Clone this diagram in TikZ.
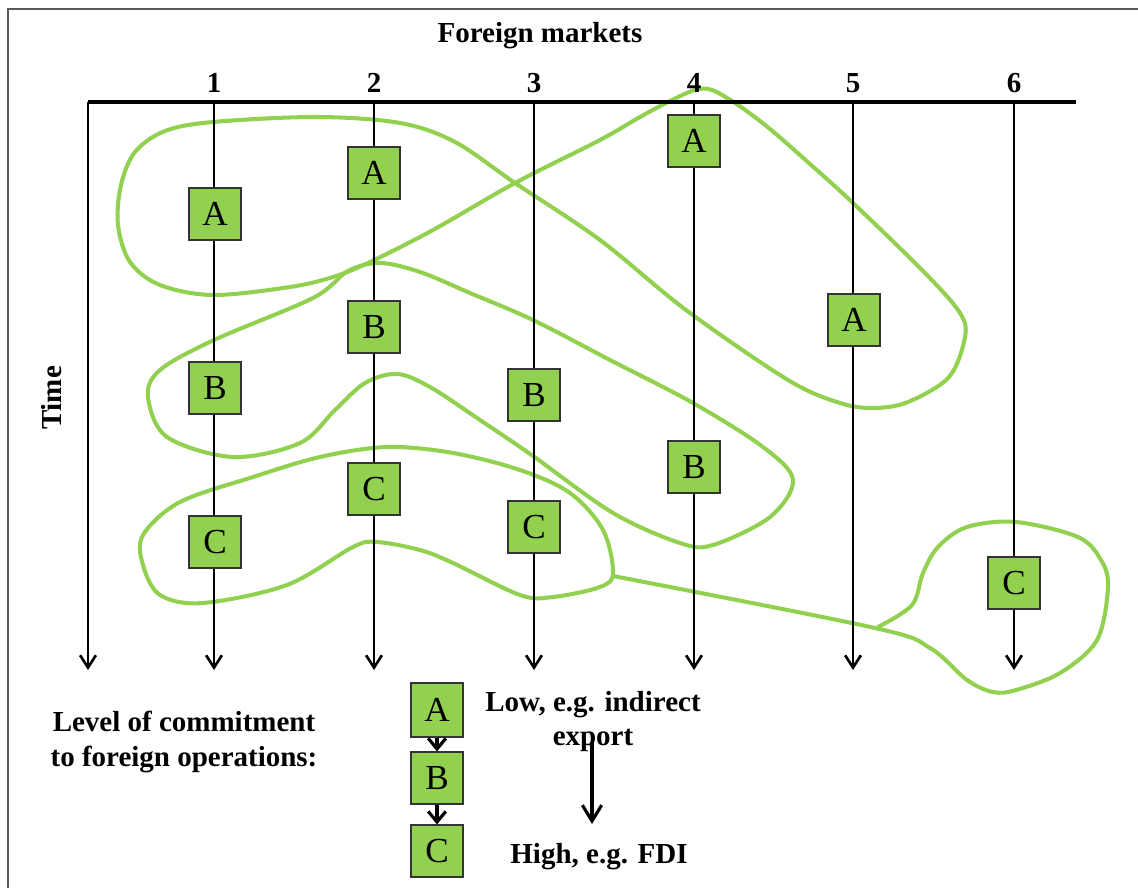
\documentclass[tikz,border=0pt]{standalone}
\usepackage{fontspec}
\setmainfont{Liberation Serif}
\usetikzlibrary{arrows.meta}
\definecolor{mgreen}{HTML}{92D050}
\definecolor{framegray}{HTML}{5A5A5A}

\begin{document}
\begin{tikzpicture}[x=0.02cm,y=-0.02cm,
  modebox/.style={draw=black!80, line width=0.7pt, fill=mgreen,
    minimum width=1.04cm, minimum height=1.04cm, inner sep=0pt,
    font=\fontsize{20}{22}\selectfont},
  timeline/.style={line width=1.5pt, -{Straight Barb[length=7pt,width=9pt]}},
  modeloop/.style={draw=mgreen, line width=2.3pt, line join=round},
  boldtxt/.style={font=\bfseries\fontsize{16.5}{20}\selectfont, inner sep=0pt},
  ]
\useasboundingbox (0,0) rectangle (1138,888);

% page frame
\draw[framegray, line width=1.1pt] (8,888) -- (8,9) -- (1138,9);

% mode groupings across markets
\draw[modeloop] plot[smooth cycle, tension=0.55] coordinates {
  (213,122) (317,117) (400,123) (455,142) (515,183) (600,240) (686,310)
  (788,380) (840,403) (874,408) (908,402) (949,377) (965,337) (960,313)
  (925,273) (853,203) (810,164) (770,129) (738,105) (712,90) (695,90)
  (670,101) (640,117) (600,140) (515,183) (433,230) (370,262) (333,277)
  (290,287) (213,295) (160,285) (130,262) (118,225) (121,185) (135,152)
  (165,131)};

\draw[modeloop] plot[smooth cycle, tension=0.55] coordinates {
  (380,263) (420,272) (470,293) (533,320) (610,360) (693,403) (763,447)
  (793,480) (770,517) (713,545) (680,543) (613,513) (533,456) (480,420)
  (430,387) (397,374) (365,383) (335,410) (300,443) (233,457) (167,437)
  (148,397) (160,370) (214,340) (313,298) (348,271)};

\draw[modeloop] plot[smooth cycle, tension=0.55] coordinates {
  (143,535) (180,502) (253,477) (320,457) (387,447) (453,453) (520,470)
  (570,493) (603,530) (613,573) (600,587) (553,597) (520,595) (453,563)
  (420,550) (377,542) (353,547) (287,585) (203,603) (160,595) (143,565)};

\draw[modeloop] plot[smooth, tension=0.55] coordinates {
  (613,576) (875,628) (930,648) (967,680) (993,692) (1016,690) (1060,673)
  (1097,640) (1108,587) (1101,560) (1078,537) (1016,522) (967,527)
  (938,547) (923,573) (912,605) (878,627)};

% time axis and market axes
\coordinate (corner) at (88,102);
\coordinate (axisend) at (1076,102);
\coordinate (bot0) at (88,670);
\draw[timeline] (corner) -- (bot0);
\foreach \i/\x in {1/214,2/374,3/534,4/694,5/853,6/1014}{
  \coordinate (top\i) at (\x,102);
  \coordinate (bot\i) at (\x,670);
  \draw[timeline] (top\i) -- (bot\i);
  \node[boldtxt, anchor=base] (num\i) at (\x,93) {\i};
}
\draw[line width=1.8pt] (corner) -- (axisend);

\node[boldtxt, anchor=base] (title) at (540,43) {Foreign markets};
\node[boldtxt, rotate=90] (time) at (52,398) {Time};

% entry modes per market
\node[modebox] (a1) at (215,214) {A};
\node[modebox] (a2) at (374,173) {A};
\node[modebox] (a4) at (694,141) {A};
\node[modebox] (a5) at (854,320) {A};
\node[modebox] (b1) at (215,388) {B};
\node[modebox] (b2) at (374,327) {B};
\node[modebox] (b3) at (534,395) {B};
\node[modebox] (b4) at (694,467) {B};
\node[modebox] (c1) at (215,542) {C};
\node[modebox] (c2) at (374,489) {C};
\node[modebox] (c3) at (534,527) {C};
\node[modebox] (c6) at (1014,583) {C};

% legend
\node[boldtxt, anchor=base] (lvl1) at (184,731) {Level of commitment};
\node[boldtxt, anchor=base] (lvl2) at (184,766) {to foreign operations:};

\node[modebox, minimum height=1.08cm] (la) at (437,710) {A};
\node[modebox] (lb) at (437,778) {B};
\node[modebox] (lc) at (437,851) {C};
\draw[line width=1.8pt, -{Straight Barb[length=6pt,width=10pt]}] (la) -- (lb);
\draw[line width=1.8pt, -{Straight Barb[length=6pt,width=10pt]}] (lb) -- (lc);

\node[boldtxt, anchor=base] (low1) at (593,711) {Low, e.g. indirect};
\node[boldtxt, anchor=base] (low2) at (593,745) {export};
\node[boldtxt, anchor=base] (high) at (599,863) {High, e.g. FDI};
\coordinate (lowend) at (592,742);
\coordinate (highend) at (592,824);
\draw[line width=1.8pt, -{Straight Barb[length=9pt,width=11pt]}] (lowend) -- (highend);
\end{tikzpicture}
\end{document}
